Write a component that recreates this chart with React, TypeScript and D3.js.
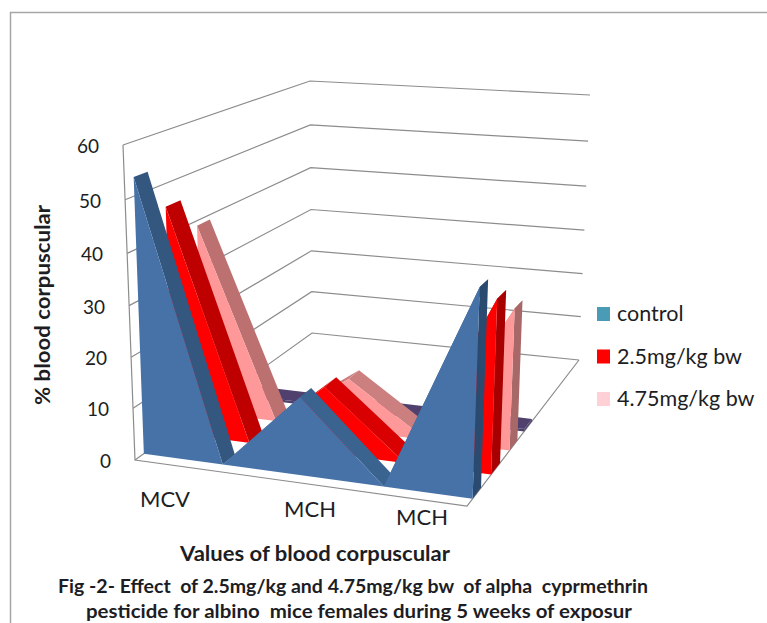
import React from "react";
import * as d3 from "d3";

const categories = ["MCV", "", "MCH", "", "MCH"];
const controlValues = [53.5, 0, 15, 0, 39.5];
const lowDoseValues = [45.5, 0, 13, 0, 34];
const highDoseValues = [39, 0, 10.5, 0, 28.5];
const hiddenValues = [0.5, 0.5, 0.5, 0.5, 0.5];
const valueTicks = [0, 10, 20, 30, 40, 50, 60];
const legendLabels = ["control", "2.5mg/kg bw", "4.75mg/kg bw"];
const legendColors = ["#4A9BB5", "#FF0000", "#FFD0D5"];

const FONT = "Lato, 'Open Sans', sans-serif";
const TEXT = "#1d1d24";

type P = [number, number];
// wall corners [frontLeft, frontRight, backLeft, backRight]
const bottomCorners: P[] = [[135, 460], [467, 506], [312, 333], [579, 360]];
const topCorners: P[] = [[123, 145], [478, 176], [310, 81], [590, 95]];

// perspective foreshortening of the two axes
const uScale = d3.scaleLinear().domain([0, 1, 2, 3, 4]).range([0, 0.24, 0.476, 0.73, 1]);
const vScale = d3.scaleLinear().domain(valueTicks).range([0, 0.164, 0.326, 0.49, 0.656, 0.826, 1]);

const bilerp = (c: P[], u: number, w: number): P => {
  const fx = c[0][0] + (c[1][0] - c[0][0]) * u;
  const fy = c[0][1] + (c[1][1] - c[0][1]) * u;
  const bx = c[2][0] + (c[3][0] - c[2][0]) * u;
  const by = c[2][1] + (c[3][1] - c[2][1]) * u;
  return [fx + (bx - fx) * w, fy + (by - fy) * w];
};
const project = (u: number, w: number, value: number): P => {
  const b = bilerp(bottomCorners, u, w);
  const t = bilerp(topCorners, u, w);
  const k = vScale(value);
  return [b[0] + (t[0] - b[0]) * k, b[1] + (t[1] - b[1]) * k];
};
const line = d3.line<P>();

const series = [
  { values: hiddenValues, depth: [0.51, 0.58], front: "#50406E", up: "#50406E", down: "#50406E", cap: "#50406E" },
  { values: highDoseValues, depth: [0.38, 0.45], front: "#FF9999", up: "#BD7070", down: "#CC7F7F", cap: "#A86868" },
  { values: lowDoseValues, depth: [0.215, 0.295], front: "#FF0000", up: "#BF0000", down: "#D80000", cap: "#A80000" },
  { values: controlValues, depth: [0.05, 0.125], front: "#4672A8", up: "#33577F", down: "#3A6390", cap: "#2B4A6F" },
];

function Series3D({ s }: { s: (typeof series)[number] }) {
  const [w0, w1] = s.depth;
  const us = s.values.map((_, i) => uScale(i));
  const strips = s.values.slice(0, -1).map((v, i) => {
    const n = s.values[i + 1];
    const pts: P[] = [project(us[i], w0, v), project(us[i + 1], w0, n), project(us[i + 1], w1, n), project(us[i], w1, v)];
    return <path key={i} d={line(pts)! + "Z"} fill={i === 0 ? s.up : s.down} />;
  });
  const last = us.length - 1;
  const cap: P[] = [
    project(1, w0, s.values[last]), project(1, w1, s.values[last]),
    project(1, w1, 0), project(1, w0, 0),
  ];
  const front: P[] = [
    project(0, w0, 0),
    ...s.values.map((v, i) => project(us[i], w0, v)),
    project(1, w0, 0),
  ];
  return (
    <g>
      {strips}
      <path d={line(cap)! + "Z"} fill={s.cap} />
      <path d={line(front)! + "Z"} fill={s.front} />
    </g>
  );
}

export default function App() {
  return (
    <svg width={767} height={623} style={{ position: "absolute", left: 0, top: 0 }} fontFamily={FONT}>
      <rect width={767} height={623} fill="#fff" />
      <rect x={10.5} y={12.5} width={900} height={800} fill="none" stroke="#a6a6a6" strokeWidth={1.5} />

      <g fill="none" stroke="#8c8c8c" strokeWidth={1.2}>
        {valueTicks.map((t) => (
          <path key={t} d={line([project(0, 0, t), project(0, 1, t), project(1, 1, t)])!} />
        ))}
        <path d={line([project(0, 0, 60), project(0, 0, 0), project(1, 0, 0), project(1, 1, 0)])!} />
      </g>

      {series.map((s, i) => <Series3D key={i} s={s} />)}

      <g fontSize={19} fill={TEXT} textAnchor="end">
        {valueTicks.map((t) => {
          const [x, y] = project(0, 0, t);
          return <text key={t} x={x - 24} y={y + 8}>{t}</text>;
        })}
      </g>

      <g fontSize={22} fill={TEXT} textAnchor="middle">
        <text x={165} y={507}>{categories[0]}</text>
        <text x={310} y={517}>{categories[2]}</text>
        <text x={422} y={525}>{categories[4]}</text>
      </g>

      <text transform="translate(50,305) rotate(-90)" fontSize={20} fontWeight={700} fill={TEXT} textAnchor="middle" textLength={200} lengthAdjust="spacingAndGlyphs">% blood corpuscular</text>
      <text x={315} y={561} fontSize={20} fontWeight={700} fill={TEXT} textAnchor="middle" textLength={270} lengthAdjust="spacingAndGlyphs">Values of blood corpuscular</text>
      <text x={353} y={593} fontSize={18} fontWeight={700} fill={TEXT} textAnchor="middle" textLength={590} lengthAdjust="spacingAndGlyphs" xmlSpace="preserve">Fig -2- Effect  of 2.5mg/kg and 4.75mg/kg bw  of alpha  cyprmethrin</text>
      <text x={359} y={618} fontSize={18} fontWeight={700} fill={TEXT} textAnchor="middle" textLength={546} lengthAdjust="spacingAndGlyphs" xmlSpace="preserve">pesticide for albino  mice females during 5 weeks of exposur</text>

      {legendLabels.map((l, i) => {
        const y = d3.scaleLinear().domain([0, 2]).range([314, 399])(i);
        return (
          <g key={l}>
            <rect x={597} y={y - 7} width={13} height={14} fill={legendColors[i]} />
            <text x={617} y={y + 7} fontSize={21.5} fill={TEXT}>{l}</text>
          </g>
        );
      })}
    </svg>
  );
}
